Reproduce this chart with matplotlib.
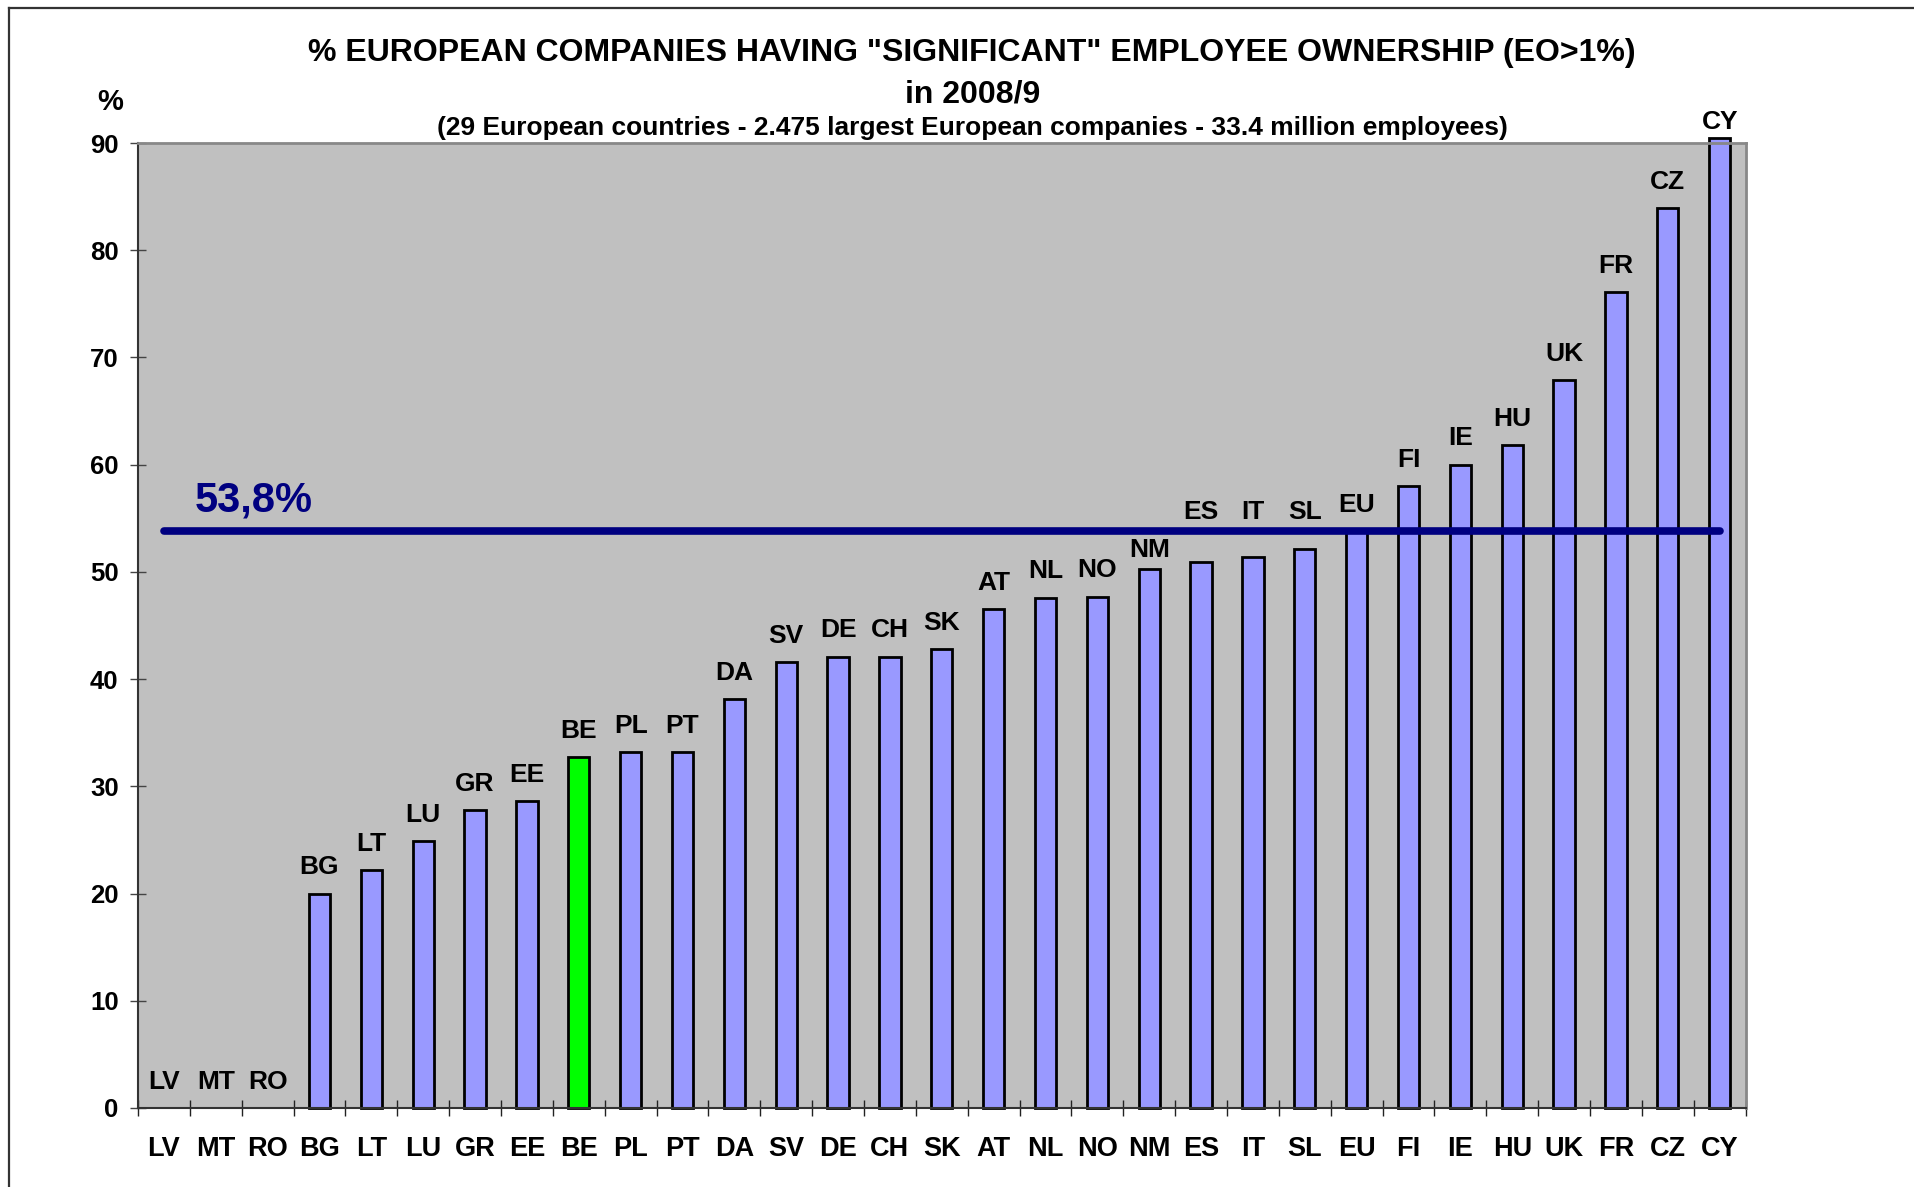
import numpy as np
import matplotlib
matplotlib.use("Agg")
import matplotlib.pyplot as plt
from matplotlib.lines import Line2D

plt.rcParams['font.family'] = ['Liberation Sans', 'DejaVu Sans']
plt.rcParams['font.weight'] = 'bold'

countries = ['LV', 'MT', 'RO', 'BG', 'LT', 'LU', 'GR', 'EE', 'BE', 'PL', 'PT',
             'DA', 'SV', 'DE', 'CH', 'SK', 'AT', 'NL', 'NO', 'NM', 'ES', 'IT',
             'SL', 'EU', 'FI', 'IE', 'HU', 'UK', 'FR', 'CZ', 'CY']
eo_pct = [0, 0, 0, 20.0, 22.2, 24.9, 27.8, 28.6, 32.7, 33.2, 33.2,
          38.1, 41.6, 42.1, 42.1, 42.8, 46.5, 47.6, 47.7, 50.3, 50.9, 51.4,
          52.1, 53.8, 58.0, 60.0, 61.8, 67.9, 76.1, 83.9, 90.5]
eu_avg = 53.8
highlight = 'BE'

fig = plt.figure(figsize=(19.14, 11.87), dpi=100)
ax = fig.add_axes([0.0721, 0.0666, 0.912 - 0.0721, 0.8795 - 0.0666])
ax.set_facecolor('#C0C0C0')

x = np.arange(len(countries))
colors = ['#00FF00' if c == highlight else '#9999FF' for c in countries]
lws = [2.0 if v > 0 else 0 for v in eo_pct]
bars = ax.bar(x, eo_pct, width=0.41, color=colors, edgecolor='black',
              linewidth=lws, zorder=2)
for b in bars:
    b.set_clip_on(False)

# bar labels; the ones that would sit on the average line are nudged off it
for xi, v, c in zip(x, eo_pct, countries):
    ly = min(v + 2.45, 92.0)
    if abs(ly - eu_avg) < 2.3:
        ly = eu_avg + 1.8 if v > eu_avg - 3.2 else eu_avg - 1.8
    ax.text(xi, ly, c, ha='center', va='center', fontsize=19,
            fontweight='bold', clip_on=False)

# EU average line
ax.plot([0, len(countries) - 1], [eu_avg, eu_avg], color='#000080', lw=5.5,
        solid_capstyle='round', zorder=3)
ax.text(0.6, eu_avg + 2.9, '53,8%', color='#000080', fontsize=30,
        fontweight='bold', ha='left', va='center')

ax.set_xlim(-0.5, len(countries) - 0.5)
ax.set_ylim(0, 90)
ax.set_yticks(np.arange(0, 91, 10))
ax.set_xticks(x)
ax.set_xticklabels(countries)
ax.set_xticks(np.arange(-0.5, len(countries), 1), minor=True)
ax.tick_params(axis='x', which='major', length=0, pad=20, labelsize=19.5)
ax.tick_params(axis='x', which='minor', direction='inout', length=12,
               width=1, color='#222222')
ax.tick_params(axis='y', direction='inout', length=12, width=1,
               color='#444444', labelsize=18.5, pad=8)

for s in ['top', 'right']:
    ax.spines[s].set_color('#888888')
    ax.spines[s].set_linewidth(2)
ax.spines['left'].set_color('#333333')
ax.spines['bottom'].set_color('#333333')
ax.spines['left'].set_linewidth(1.5)
ax.spines['bottom'].set_linewidth(1.5)

fig.text(0.0575, 0.914, '%', fontsize=21, fontweight='bold', ha='center', va='center')
fig.text(0.508, 0.955, '% EUROPEAN COMPANIES HAVING "SIGNIFICANT" EMPLOYEE OWNERSHIP (EO>1%)',
         fontsize=23, fontweight='bold', ha='center', va='center')
fig.text(0.508, 0.920, 'in 2008/9', fontsize=23, fontweight='bold', ha='center', va='center')
fig.text(0.508, 0.892, '(29 European countries - 2.475 largest European companies - 33.4 million employees)',
         fontsize=19, fontweight='bold', ha='center', va='center')

# frame lines of the original slide
fig.add_artist(Line2D([0.0047, 1.0], [0.9933, 0.9933], color='#333333', lw=1.6))
fig.add_artist(Line2D([0.0047, 0.0047], [0.0, 0.9933], color='#333333', lw=1.6))

fig.savefig('out.png', dpi=100)
